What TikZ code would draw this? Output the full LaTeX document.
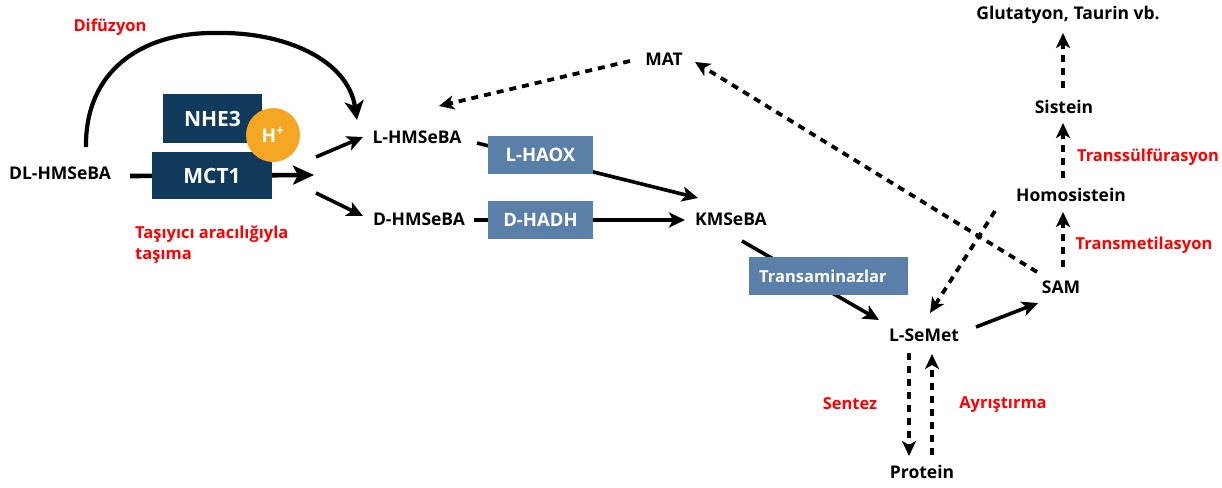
\documentclass[tikz,border=0pt]{standalone}
\usepackage{fontspec}
\setmainfont{Open Sans}
\usetikzlibrary{arrows.meta,calc}
\definecolor{navy}{HTML}{0F3A5C}
\definecolor{steel}{HTML}{5A7FA8}
\definecolor{amber}{HTML}{F5A623}
\definecolor{lblred}{HTML}{FF0000}
\begin{document}
\begin{tikzpicture}[x=1pt,y=-1pt,
  every node/.style={inner sep=0pt},
  txt/.style={font=\bfseries\fontsize{17.5}{20}\selectfont, text=black},
  redlbl/.style={font=\bfseries\fontsize{16.5}{20}\selectfont, text=lblred},
  navybox/.style={fill=navy, text=white, font=\bfseries\fontsize{21}{24}\selectfont},
  steelbox/.style={fill=steel, text=white, font=\bfseries\fontsize{18.5}{20}\selectfont,
    minimum width=105pt, minimum height=38pt},
  solidarr/.style={line width=3.6pt, -{Stealth[length=16pt,width=15pt,inset=4pt]}},
  dasharr/.style={line width=3.8pt, dash pattern=on 7pt off 6pt, -{Stealth[length=15pt,width=14pt,inset=4pt]}}
]
\useasboundingbox (0,0) rectangle (1222,487);
\fill[white] (0,0) rectangle (1222,487);

% text nodes
\node[redlbl] (difuz) at (110,27) {Difüzyon};
\node[txt] (dl) at (60,173) {DL-HMSeBA};
\node[redlbl, anchor=west, align=left, font=\bfseries\fontsize{16.5}{21}\selectfont] (tasiyici) at (135,245) {Taşıyıcı aracılığıyla\\taşıma};
\node[txt] (lh) at (417,137) {L-HMSeBA};
\node[txt] (dh) at (419,219) {D-HMSeBA};
\node[txt] (kms) at (731,219) {KMSeBA};
\node[txt] (mat) at (664,59) {MAT};
\node[txt] (lsm) at (924,335) {L-SeMet};
\node[txt] (prot) at (922,472) {Protein};
\node[redlbl] (sentez) at (850,404) {Sentez};
\node[redlbl] (ayr) at (1003,405) {Ayrıştırma};
\node[txt] (sam) at (1061,287) {SAM};
\node[txt] (homo) at (1071,195) {Homosistein};
\node[txt] (sis) at (1064,107) {Sistein};
\node[txt] (glu) at (1068,15) {Glutatyon, Taurin vb.};
\node[redlbl] (tmet) at (1144,245) {Transmetilasyon};
\node[redlbl] (tsulf) at (1148,157) {Transsülfürasyon};
\coordinate (fork) at (314,175);

% diffusion arc
\draw[line width=4.2pt, -{Stealth[length=19pt,width=19pt,inset=5pt]}]
  ([shift={(26,-26)}]dl.center) .. controls (85,72) and (140,33) .. (213,33)
  .. controls (285,31) and (348,60) .. ([shift={(-60,-17)}]lh.center);

% carrier line through MCT1
\draw[line width=4.6pt, -{Stealth[length=21pt,width=19pt,inset=5pt]}]
  ([shift={(70,3)}]dl.center) -- (fork);

% boxes
\node[navybox, minimum width=99pt, minimum height=49pt] (nhe) at (212.5,118.5) {NHE3};
\node[navybox, minimum width=120pt, minimum height=47pt] (mct) at (212,175.5) {MCT1};
\node[circle, fill=amber, text=white, minimum size=54pt,
  font=\bfseries\fontsize{19}{22}\selectfont] (hp) at (273,135) {H\textsuperscript{+}};

% fork arrows
\draw[solidarr] ([shift={(2,-18)}]fork) -- ([shift={(-54,0)}]lh.center);
\draw[solidarr] ([shift={(2,18)}]fork) -- ([shift={(-56,-3)}]dh.center);

% L / D branches
\draw[solidarr] ([shift={(60,6)}]lh.center) -- ([shift={(-33,-21)}]kms.center);
\draw[solidarr] ([shift={(55,1)}]dh.center) -- ([shift={(-46,1)}]kms.center);
\node[steelbox] (lhaox) at (540.5,155) {L-HAOX};
\node[steelbox] (dhadh) at (540.5,220) {D-HADH};

% KMSeBA -> L-SeMet
\draw[solidarr] ([shift={(11,22)}]kms.center) -- ([shift={(-45,-15)}]lsm.center);
\node[steelbox, anchor=west, minimum width=0pt, text width=139pt, align=left,
  inner xsep=10pt, minimum height=38pt, font=\bfseries\fontsize{16.5}{20}\selectfont]
  (trans) at (749,276) {Transaminazlar};

% L-SeMet -> SAM
\draw[solidarr] ([shift={(52,-8)}]lsm.center) -- ([shift={(-23,16)}]sam.center);

% dashed arrows
\draw[dasharr] ([shift={(-34,2)}]mat.center) -- ([shift={(22,-31)}]lh.center);
\draw[dasharr] ([shift={(-24,-15)}]sam.center) -- ([shift={(31,3)}]mat.center);
\draw[dasharr] ([shift={(-76,16)}]homo.center) -- ([shift={(6,-22)}]lsm.center);
\draw[dasharr] ([shift={(-15,18)}]lsm.center) -- ([shift={(-13,-16)}]prot.center);
\draw[dasharr] ([shift={(10,-17)}]prot.center) -- ([shift={(8,19)}]lsm.center);
\draw[dasharr] ([shift={(2,-20)}]sam.center) -- ([shift={(-8,17)}]homo.center);
\draw[dasharr] ([shift={(-8,-17)}]homo.center) -- ([shift={(-1,16)}]sis.center);
\draw[dasharr] ([shift={(-1,-19)}]sis.center) -- ([shift={(-5,18)}]glu.center);
\end{tikzpicture}
\end{document}
